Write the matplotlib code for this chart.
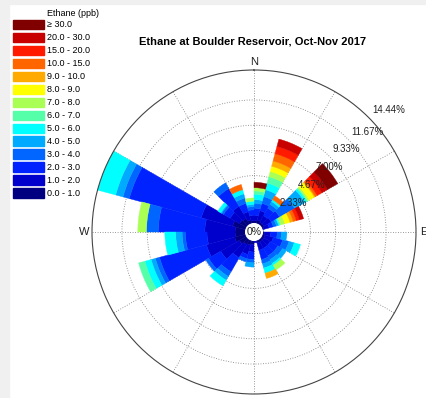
import numpy as np
import matplotlib
matplotlib.use("Agg")
import matplotlib.pyplot as plt
from matplotlib.patches import Rectangle

plt.rcParams['font.family'] = ['Liberation Sans', 'DejaVu Sans']

# direction sectors (deg, left edge), 15 deg wide, clockwise from N
sector_start = np.arange(0, 360, 15)

bin_labels = ["0.0 - 1.0", "1.0 - 2.0", "2.0 - 3.0", "3.0 - 4.0", "4.0 - 5.0",
              "5.0 - 6.0", "6.0 - 7.0", "7.0 - 8.0", "8.0 - 9.0", "9.0 - 10.0",
              "10.0 - 15.0", "15.0 - 20.0", "20.0 - 30.0", "\u2265 30.0"]
bin_colors = ["#000080", "#0000cc", "#0022ff", "#0066ff", "#00aaff",
              "#00ffff", "#55ffaa", "#aaff55", "#ffff00", "#ffaa00",
              "#ff6600", "#ff1a00", "#c80000", "#800000"]

# frequency (%) per sector, one list per concentration bin
f_0_1   = [0.5, 0.6, 0.5, 0.5, 0.4, 0.2, 0.4, 0.5, 0.5, 0.5, 0.5, 0.3,
           0.6, 0.7, 0.8, 1.0, 1.3, 1.2, 1.2, 1.5, 1.0, 0.9, 0.6, 0.5]
f_1_2   = [0.5, 0.9, 0.7, 0.8, 0.5, 0.1, 0.6, 0.8, 0.7, 0.7, 0.7, 0.15,
           0.7, 0.9, 1.4, 2.0, 2.7, 2.6, 2.8, 3.0, 1.0, 1.3, 0.8, 0.5]
f_2_3   = [0.65, 0.7, 0.8, 0.9, 0.4, 0, 0.6, 0.9, 0.8, 0.8, 0.9, 0,
           0.7, 0.4, 1.5, 1.3, 4.5, 2.0, 4.3, 6.9, 0.7, 1.9, 0.8, 0.5]
f_3_4   = [0.45, 0.65, 0.4, 1.6, 0.3, 0, 0.4, 0.6, 0.5, 0.4, 0.4, 0,
           0.3, 0.3, 0.5, 0.3, 0.4, 0.3, 1.1, 0.6, 0.2, 0.6, 0.5, 0.3]
f_4_5   = [0.35, 0.65, 0.3, 1.1, 0.2, 0, 0.5, 0.5, 0.4, 0.4, 0.4, 0,
           0.4, 0, 0.4, 0, 0.4, 0.6, 0, 0.7, 0.1, 0, 0.4, 0.2]
f_5_6   = [0.5, 0.65, 0.2, 0.2, 0.1, 0, 0, 0.6, 0, 0.2, 0.5, 0,
           0, 0, 0.6, 0, 0.6, 1.0, 0, 1.74, 0.3, 0, 0.4, 0.3]
f_6_7   = [0.3, 0.6, 0, 0.1, 0.1, 0, 0, 0, 0, 0, 0, 0,
           0, 0, 0, 0, 0.6, 0, 0, 0, 0, 0, 0, 0]
f_7_8   = [0.3, 0.5, 0, 0.15, 0.4, 0, 0, 0, 0, 0.5, 0, 0,
           0, 0, 0, 0, 0, 0, 0.8, 0, 0, 0, 0, 0.3]
f_8_9   = [0, 0.5, 0, 0.55, 0.5, 0, 0, 0, 0, 0, 0, 0,
           0, 0, 0, 0, 0, 0, 0, 0, 0, 0, 0, 0]
f_9_10  = [0, 0.5, 0, 0.1, 0.3, 0, 0, 0, 0, 0, 0.5, 0,
           0, 0, 0, 0, 0, 0, 0, 0, 0, 0, 0, 0]
f_10_15 = [0, 0.7, 0.4, 0.2, 0.3, 0, 0, 0, 0, 0, 0, 0,
           0, 0, 0, 0, 0, 0, 0, 0, 0, 0, 0.5, 0]
f_15_20 = [0, 0.7, 0, 0.5, 0.3, 0, 0, 0, 0, 0, 0, 0,
           0, 0, 0, 0, 0, 0, 0, 0, 0, 0, 0, 0]
f_20_30 = [0, 0.7, 0, 0.6, 0.4, 0, 0, 0, 0, 0, 0, 0,
           0, 0, 0, 0, 0, 0, 0, 0, 0, 0, 0, 0]
f_30up  = [0.5, 0, 0, 1.1, 0, 0, 0, 0, 0, 0, 0, 0,
           0, 0, 0, 0, 0, 0, 0, 0, 0, 0, 0, 0]

series = [f_0_1, f_1_2, f_2_3, f_3_4, f_4_5, f_5_6, f_6_7, f_7_8,
          f_8_9, f_9_10, f_10_15, f_15_20, f_20_30, f_30up]

ring_vals = [2.33, 4.67, 7.00, 9.33, 11.67]
r_max = 14.44

W, H = 427, 398
fig = plt.figure(figsize=(W/100, H/100), dpi=100)

# grey window edge of the screenshot
fig.patches.append(Rectangle((0, 0), 9/W, 1, transform=fig.transFigure,
                             color="#f0f0f0", zorder=0))
fig.patches.append(Rectangle((0, 1 - 4/H), 1, 4/H, transform=fig.transFigure,
                             color="#f0f0f0", zorder=0))

cx, cy, rad = 254, 232, 162
ax = fig.add_axes([(cx - rad)/W, (H - cy - rad)/H, 2*rad/W, 2*rad/H],
                  projection='polar')
ax.set_theta_zero_location('N')
ax.set_theta_direction(-1)

theta = np.deg2rad(sector_start)
bottom = np.zeros(len(sector_start))
for vals, col in zip(series, bin_colors):
    vals = np.array(vals, dtype=float)
    keep = vals > 0
    ax.bar(theta[keep], vals[keep], width=np.deg2rad(15), bottom=bottom[keep],
           align='edge', color=col, edgecolor=col, linewidth=0.3, zorder=2)
    bottom += vals

ax.set_ylim(0, r_max)
ax.set_rorigin(-0.55)
ax.set_rgrids(ring_vals, labels=[])
ax.set_thetagrids(range(0, 360, 30), labels=[])
ax.grid(color='#777777', linestyle=(0, (1, 2)), linewidth=0.6)
ax.set_axisbelow(True)
ax.spines['polar'].set_color('#444444')
ax.spines['polar'].set_linewidth(0.8)

for rv in ring_vals + [r_max]:
    ax.annotate("%.2f%%" % rv, xy=(np.deg2rad(45), rv), xytext=(2.5, 1.5),
                textcoords='offset points', ha='left', va='bottom',
                fontsize=7, color='#222222', zorder=5)

fig.text(cx/W, 1 - cy/H, "0%", ha='center', va='center', fontsize=7.5,
         color='#222222', zorder=6,
         bbox=dict(boxstyle='circle,pad=0.15', facecolor='white', edgecolor='none'))

for ang, lab in [(0, 'N'), (90, 'E'), (270, 'W')]:
    ax.text(np.deg2rad(ang), 15.2, lab, ha='center', va='center',
            fontsize=8, color='#222222')

fig.text(253/W, 1 - 41/H, "Ethane at Boulder Reservoir, Oct-Nov 2017",
         ha='center', va='center', fontsize=8, fontweight='bold')

# legend, top entry is highest concentration
fig.text(47/W, 1 - 14/H, "Ethane (ppb)", ha='left', va='center', fontsize=6.5)
for i, (lab, col) in enumerate(zip(bin_labels[::-1], bin_colors[::-1])):
    yc = 24.7 + 12.95*i
    fig.patches.append(Rectangle((12.7/W, 1 - (yc + 4.75)/H), 31.6/W, 9.5/H,
                                 transform=fig.transFigure, color=col))
    fig.text(47/W, 1 - yc/H, lab, ha='left', va='center', fontsize=6.5)

fig.savefig("out.png", dpi=100)
